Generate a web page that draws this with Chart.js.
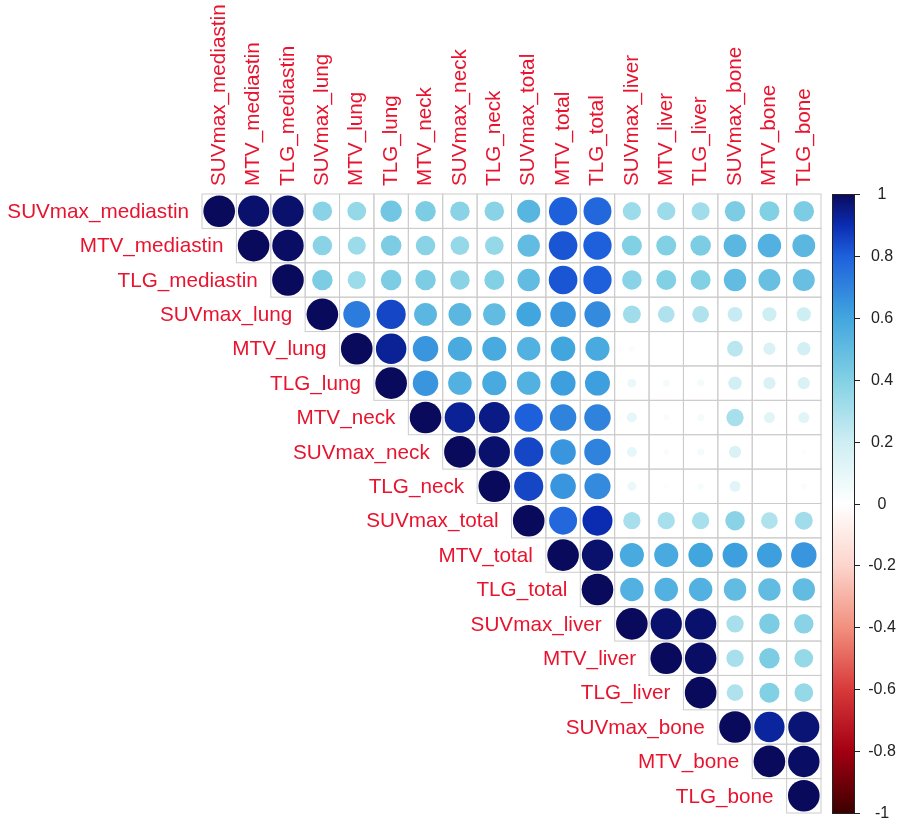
<!DOCTYPE html>
<html>
<head>
<meta charset="utf-8">
<script src="https://cdn.jsdelivr.net/npm/chart.js@4/dist/chart.umd.min.js"></script>
<style>
  html, body { margin: 0; padding: 0; background: #ffffff; }
  #wrap { width: 901px; height: 826px; position: relative; }
</style>
</head>
<body>
<div id="wrap"><canvas id="chart"></canvas></div>
<script>
// -------- DATA --------
const varNames = [
  "SUVmax_mediastin", "MTV_mediastin", "TLG_mediastin",
  "SUVmax_lung", "MTV_lung", "TLG_lung",
  "MTV_neck", "SUVmax_neck", "TLG_neck",
  "SUVmax_total", "MTV_total", "TLG_total",
  "SUVmax_liver", "MTV_liver", "TLG_liver",
  "SUVmax_bone", "MTV_bone", "TLG_bone"
];

// upper triangle, each row starts at the diagonal
const row01 = [1, 0.98, 0.98, 0.38, 0.35, 0.45, 0.42, 0.38, 0.38, 0.53, 0.80, 0.78, 0.33, 0.33, 0.32, 0.42, 0.40, 0.42];
const row02 = [1, 0.99, 0.38, 0.33, 0.42, 0.38, 0.35, 0.35, 0.50, 0.82, 0.80, 0.40, 0.40, 0.42, 0.52, 0.55, 0.52];
const row03 = [1, 0.42, 0.33, 0.42, 0.42, 0.38, 0.40, 0.50, 0.82, 0.80, 0.38, 0.40, 0.40, 0.50, 0.48, 0.48];
const row04 = [1, 0.72, 0.85, 0.52, 0.52, 0.50, 0.60, 0.65, 0.68, 0.32, 0.28, 0.28, 0.22, 0.20, 0.20];
const row05 = [1, 0.93, 0.65, 0.58, 0.58, 0.55, 0.60, 0.58, 0.03, 0.01, 0.01, 0.25, 0.15, 0.18];
const row06 = [1, 0.65, 0.55, 0.58, 0.55, 0.62, 0.62, 0.08, 0.05, 0.05, 0.18, 0.15, 0.15];
const row07 = [1, 0.93, 0.95, 0.80, 0.70, 0.70, 0.10, 0.03, 0.05, 0.30, 0.12, 0.12];
const row08 = [1, 0.98, 0.85, 0.65, 0.70, 0.10, 0.03, 0.05, 0.15, 0.01, 0.02];
const row09 = [1, 0.85, 0.65, 0.68, 0.08, 0.02, 0.04, 0.12, 0.01, 0.03];
const row10 = [1, 0.78, 0.90, 0.30, 0.30, 0.30, 0.38, 0.28, 0.32];
const row11 = [1, 0.98, 0.58, 0.58, 0.60, 0.62, 0.62, 0.65];
const row12 = [1, 0.55, 0.55, 0.55, 0.50, 0.50, 0.50];
const row13 = [1, 0.98, 0.98, 0.30, 0.42, 0.38];
const row14 = [1, 0.99, 0.30, 0.42, 0.35];
const row15 = [1, 0.28, 0.40, 0.35];
const row16 = [1, 0.92, 0.97];
const row17 = [1, 0.99];
const row18 = [1];
const corrRows = [row01, row02, row03, row04, row05, row06, row07, row08, row09,
                  row10, row11, row12, row13, row14, row15, row16, row17, row18];

const barTicks = [1, 0.8, 0.6, 0.4, 0.2, 0, -0.2, -0.4, -0.6, -0.8, -1];

// -------- COLOURS --------
const palStops = [-1, -0.8, -0.6, -0.4, -0.2, 0, 0.2, 0.4, 0.6, 0.8, 0.9, 1];
const palColors = ["#3d0000", "#a30012", "#d83a3a", "#f2907f", "#fcd5cc", "#ffffff",
                   "#cdeef3", "#82d0e4", "#42a6de", "#1e60dc", "#0b2cb0", "#0a0a5c"];
const labelRed = "#e8142f";

function hexToRgb(h) {
  return [parseInt(h.slice(1,3),16), parseInt(h.slice(3,5),16), parseInt(h.slice(5,7),16)];
}
function corrColor(v) {
  for (let i = 0; i < palStops.length - 1; i++) {
    if (v <= palStops[i+1]) {
      const t = (v - palStops[i]) / (palStops[i+1] - palStops[i]);
      const a = hexToRgb(palColors[i]), b = hexToRgb(palColors[i+1]);
      const c = a.map((x, k) => Math.round(x + (b[k] - x) * t));
      return `rgb(${c[0]},${c[1]},${c[2]})`;
    }
  }
  return palColors[palColors.length - 1];
}

// points built from the rows
const points = [];
corrRows.forEach((row, i) => {
  row.forEach((v, k) => {
    points.push({ x: i + k + 1, y: i + 1, v: v });
  });
});

function pointColor(c) {
  return c.raw ? corrColor(c.raw.v) : "#ffffff";
}
function pointRadius(c) {
  if (!c.raw) return 0;
  const s = c.chart.scales.x;
  const cell = Math.abs(s.getPixelForValue(2) - s.getPixelForValue(1));
  if (!isFinite(cell)) return 0;
  return 0.46 * cell * Math.sqrt(Math.abs(c.raw.v));
}

// -------- PLUGIN: grid, labels, colour bar --------
const corrDecor = {
  id: "corrDecor",
  beforeDatasetsDraw(chart) {
    const ctx = chart.ctx, xs = chart.scales.x, ys = chart.scales.y;
    const cell = Math.abs(xs.getPixelForValue(2) - xs.getPixelForValue(1));
    ctx.save();
    ctx.strokeStyle = "#cccccc";
    ctx.lineWidth = 1;
    corrRows.forEach((row, i) => {
      row.forEach((v, k) => {
        const cx = xs.getPixelForValue(i + k + 1), cy = ys.getPixelForValue(i + 1);
        ctx.strokeRect(cx - cell/2, cy - cell/2, cell, cell);
      });
    });
    ctx.restore();
  },
  afterDraw(chart) {
    const ctx = chart.ctx, xs = chart.scales.x, ys = chart.scales.y, cb = chart.scales.cb;
    const cell = Math.abs(xs.getPixelForValue(2) - xs.getPixelForValue(1));
    const area = chart.chartArea;
    ctx.save();
    ctx.fillStyle = labelRed;
    ctx.font = "20.7px 'Liberation Sans', Arial, sans-serif";
    // row labels, next to the diagonal cell
    varNames.forEach((name, i) => {
      ctx.textAlign = "right";
      ctx.textBaseline = "middle";
      ctx.fillText(name, xs.getPixelForValue(i + 1) - cell/2 - 13, ys.getPixelForValue(i + 1) + 1);
    });
    // column labels, rotated
    varNames.forEach((name, j) => {
      ctx.save();
      ctx.translate(xs.getPixelForValue(j + 1), area.top - 8);
      ctx.rotate(-Math.PI / 2);
      ctx.textAlign = "left";
      ctx.textBaseline = "middle";
      ctx.fillText(name, 0, 0);
      ctx.restore();
    });
    // colour bar
    const bx = area.right + 11, bw = 22;
    const top = cb.getPixelForValue(1), bot = cb.getPixelForValue(-1);
    const grad = ctx.createLinearGradient(0, bot, 0, top);
    palStops.forEach((s, i) => grad.addColorStop((s + 1) / 2, palColors[i]));
    ctx.fillStyle = grad;
    ctx.fillRect(bx, top, bw, bot - top);
    ctx.strokeStyle = "#222222";
    ctx.lineWidth = 1;
    ctx.strokeRect(bx + 0.5, top + 0.5, bw, bot - top);
    ctx.fillStyle = "#222222";
    ctx.font = "16px 'Liberation Sans', Arial, sans-serif";
    ctx.textAlign = "center";
    ctx.textBaseline = "middle";
    barTicks.forEach(t => {
      const py = Math.round(cb.getPixelForValue(t)) + 0.5;
      ctx.beginPath();
      ctx.moveTo(bx + bw, py);
      ctx.lineTo(bx + bw + 6, py);
      ctx.stroke();
      ctx.fillText(String(t), bx + bw + 28, py);
    });
    ctx.restore();
  }
};

// -------- CHART --------
new Chart(document.getElementById("chart"), {
  type: "scatter",
  data: {
    datasets: [{
      data: points,
      showLine: false,
      pointBackgroundColor: pointColor,
      pointBorderColor: pointColor,
      pointBorderWidth: 0,
      pointRadius: pointRadius,
      pointHoverRadius: pointRadius
    }]
  },
  options: {
    responsive: true,
    maintainAspectRatio: false,
    animation: false,
    events: [],
    layout: { padding: { left: 202, right: 80, top: 194, bottom: 13 } },
    plugins: { legend: { display: false }, tooltip: { enabled: false } },
    scales: {
      x: { type: "linear", min: 0.5, max: 18.5, display: false },
      y: { type: "linear", min: 0.5, max: 18.5, reverse: true, display: false },
      cb: { type: "linear", axis: "y", min: -1, max: 1, display: false }
    }
  },
  plugins: [corrDecor]
});
</script>
</body>
</html>
